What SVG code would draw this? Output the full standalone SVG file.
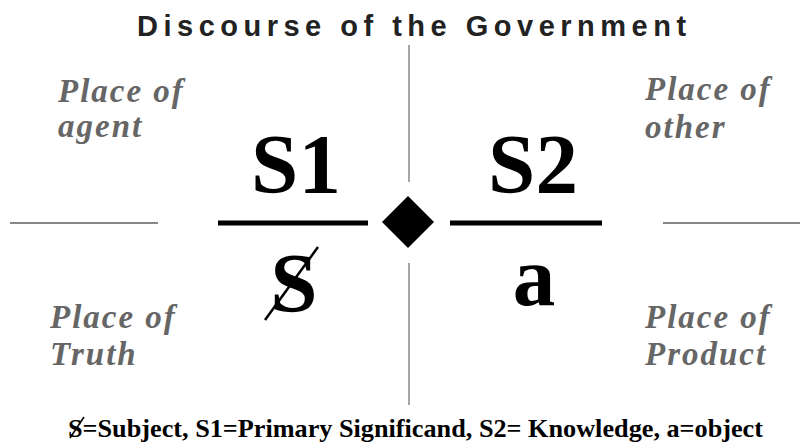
<svg xmlns="http://www.w3.org/2000/svg" width="800" height="446" viewBox="0 0 800 446">
<style>
.title{font-family:"Liberation Sans",Arial,sans-serif;font-weight:bold;font-size:29px;fill:#222;letter-spacing:5.5px}
.place{font-family:"Liberation Serif","Times New Roman",serif;font-weight:bold;font-style:italic;font-size:33px;fill:#666;letter-spacing:2px}
.big{font-family:"Liberation Serif","Times New Roman",serif;font-weight:bold;font-size:85px;fill:#000;text-anchor:middle}
.foot{font-family:"Liberation Serif","Times New Roman",serif;font-weight:bold;font-size:26px;fill:#000}
.thin{stroke:#888;stroke-width:2;fill:none}
.thick{stroke:#000;stroke-width:5;fill:none}
</style>
<rect width="800" height="446" fill="#fff"/>
<text class="title" x="137" y="36">Discourse of the Government</text>
<g id="connectors">
<line class="thin" x1="409" y1="45" x2="409" y2="182" style="stroke-width:1.5"/>
<line class="thin" x1="409" y1="263" x2="409" y2="405" style="stroke-width:1.5"/>
<line class="thin" x1="10" y1="223" x2="158" y2="223"/>
<line class="thin" x1="663" y1="223" x2="800" y2="223"/>
<line class="thick" x1="218" y1="223" x2="368" y2="223"/>
<line class="thick" x1="450" y1="223" x2="602" y2="223"/>
</g>
<g id="center">
<polygon points="408,196 434,222 408,248 382,222" fill="#000"/>
</g>
<g id="agent">
<text class="place" x="58" y="102">Place of</text>
<text class="place" x="58" y="137">agent</text>
</g>
<g id="other">
<text class="place" x="645" y="100">Place of</text>
<text class="place" x="645" y="138">other</text>
</g>
<g id="truth">
<text class="place" x="50" y="328">Place of</text>
<text class="place" x="50" y="365">Truth</text>
</g>
<g id="product">
<text class="place" x="645" y="328">Place of</text>
<text class="place" x="645" y="365">Product</text>
</g>
<g id="S1"><text class="big" x="296" y="193">S1</text></g>
<g id="S2"><text class="big" x="533" y="193">S2</text></g>
<g id="subject">
<text class="big" x="294" y="312">S</text>
<line x1="265" y1="320" x2="318" y2="247" stroke="#000" stroke-width="2.5"/>
</g>
<g id="a"><text class="big" x="534" y="305">a</text></g>
<g id="legend">
<text class="foot" x="68" y="437" textLength="695" lengthAdjust="spacingAndGlyphs">S=Subject,  S1=Primary Significand,  S2= Knowledge,  a=object</text>
<line x1="70" y1="438" x2="84" y2="417" stroke="#000" stroke-width="1.5"/>
</g>
</svg>
